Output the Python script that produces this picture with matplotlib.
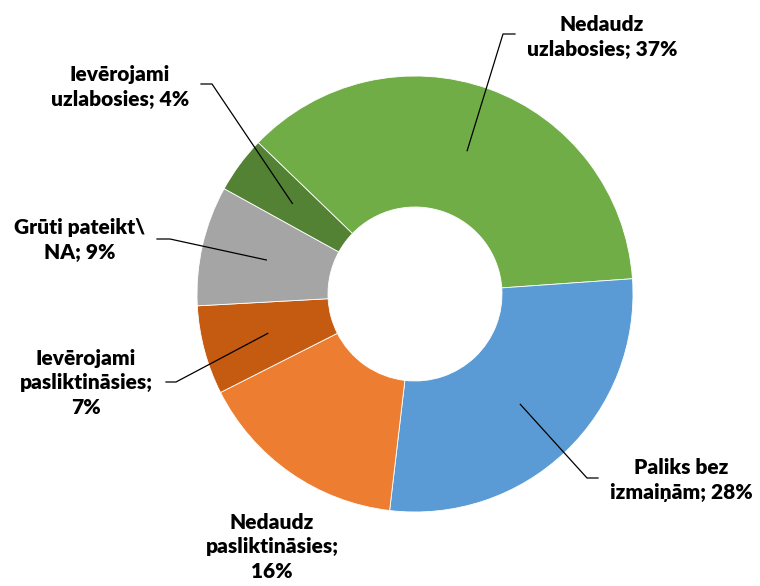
import numpy as np
import matplotlib
matplotlib.use('Agg')
import matplotlib.pyplot as plt

# slices in clockwise order, starting from the upper-left boundary
categories = ['Nedaudz\nuzlabosies', 'Paliks bez\nizmaiņām', 'Nedaudz\npasliktināsies;\n',
              'Ievērojami\npasliktināsies;\n', 'Grūti pateikt\\\nNA', 'Ievērojami\nuzlabosies']
values = [36.7, 28.0, 15.7, 6.6, 8.9, 4.2]
colors = ['#70AD47', '#5B9BD5', '#ED7D31', '#C55A11', '#A5A5A5', '#548235']

W, H = 760, 586
cx, cy = 415, H - 294
r_out, r_in = 218, 87

fig = plt.figure(figsize=(W / 100, H / 100), dpi=100)
ax = fig.add_axes([0, 0, 1, 1])

wedges, _ = ax.pie(values, colors=colors, startangle=136, counterclock=False,
                   center=(cx, cy), radius=r_out,
                   wedgeprops=dict(width=r_out - r_in, edgecolor='white', linewidth=0.6))
ax.set_xlim(0, W)
ax.set_ylim(0, H)
ax.set_aspect('equal')
ax.axis('off')

# label positions (pixel coords from top), elbow of leader line, end of leader line
label_xy = [(602, 37), (681, 480), (272, 547), (86, 383), (80, 240), (120, 87)]
elbows = [((503, 34), (515, 34)), ((587, 478), (598, 478)), None,
          ((176, 382), (166, 382)), ((170, 239), (157, 239)), ((212, 84), (201, 84))]

font = dict(family='Lato', weight='heavy', size=15, color='black')
r_mid = (r_out + r_in) / 2
for w, cat, v, (lx, ly), el in zip(wedges, categories, values, label_xy, elbows):
    sep = '' if cat.endswith('\n') else '; '
    ax.text(lx, H - ly, f'{cat}{sep}{round(v)}%', ha='center', va='center',
            linespacing=1.35, **font)
    if el is None:
        continue
    ang = np.deg2rad((w.theta1 + w.theta2) / 2)
    x0, y0 = cx + r_mid * np.cos(ang), cy + r_mid * np.sin(ang)
    (ex, ey), (tx, ty) = el
    ax.plot([x0, ex, tx], [y0, H - ey, H - ty], color='black', lw=0.9)

fig.savefig('out.png', dpi=100)
